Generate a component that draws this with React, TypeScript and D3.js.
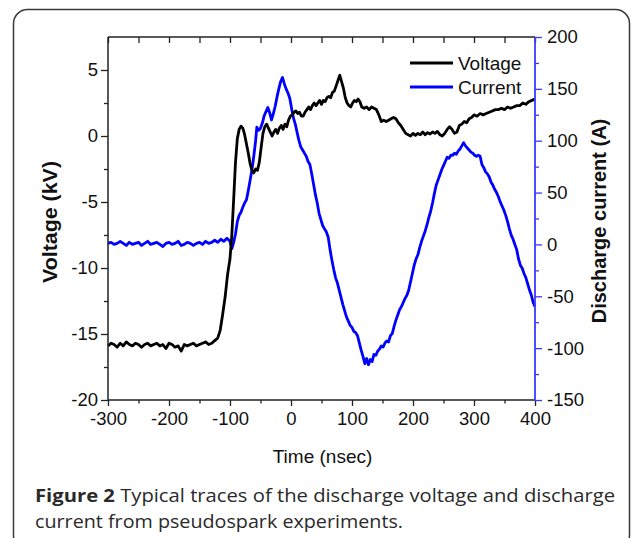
import React, { useRef, useEffect } from 'react';
import * as d3 from 'd3';

// time axis (nsec)
const xTicks = [-300, -200, -100, 0, 100, 200, 300, 400];
const xMinor = [-250, -150, -50, 50, 150, 250, 350];
const vTicks = [-20, -15, -10, -5, 0, 5];
const vMinor = [-17.5, -12.5, -7.5, -2.5, 2.5];
const iTicks = [-150, -100, -50, 0, 50, 100, 150, 200];
const iMinor = [-125, -75, -25, 25, 75, 125, 175];

// voltage trace (kV)
const vTime = [
  -300, -295, -290, -285, -280, -275, -270, -265, -260, -255, -250, -245, -240, -235, -230, -225, -220, -215,
  -210, -205, -200, -195, -190, -185, -180, -175, -170, -165, -160, -155, -150, -145, -140, -135, -130, -125,
  -120, -116, -112, -108, -104, -100, -97, -94, -91, -88, -85, -82, -79, -76, -73, -70, -67, -64, -61, -58,
  -55, -52, -49, -46, -43, -40, -37, -34, -31, -28, -25, -22, -19, -16, -13, -10, -7, -4, -1, 2, 5, 8, 11,
  14, 17, 20, 23, 26, 29, 32, 35, 38, 41, 44, 47, 50, 53, 56, 59, 62, 65, 68, 71, 74, 77, 80, 83, 86, 89,
  92, 95, 98, 101, 104, 107, 110, 113, 116, 120, 124, 128, 132, 136, 140, 144, 148, 152, 156, 160, 164,
  168, 172, 176, 180, 184, 188, 192, 196, 200, 204, 208, 212, 216, 220, 224, 228, 232, 236, 240, 244, 248,
  252, 256, 260, 264, 268, 272, 276, 280, 284, 288, 292, 296, 300, 305, 310, 315, 320, 325, 330, 335, 340,
  345, 350, 355, 360, 365, 370, 375, 380, 385, 390, 395, 400,
];
const voltage = [
  -15.9, -15.7, -15.8, -16.0, -15.7, -15.9, -15.6, -15.8, -15.9, -15.7, -15.8, -16.0, -15.8, -15.7, -15.9,
  -15.8, -15.7, -15.9, -15.8, -16.1, -15.7, -15.8, -16.0, -15.9, -16.3, -15.8, -15.9, -15.8, -15.7, -15.9,
  -15.8, -15.7, -15.6, -15.8, -15.7, -15.5,
  -15.3, -14.7, -13.5, -12.2, -10.5, -9.3, -7.5, -4.8, -2.0, -0.2, 0.5, 0.75, 0.6, 0.1, -0.6, -1.3, -2.1,
  -2.6, -2.8, -2.5, -2.6, -2.0, -0.9, 0.2, 0.7, 0.9, 0.6, 0.3, 0.0, 0.3, 0.5, 0.2, 0.6, 0.8, 0.5, 0.9, 0.7,
  1.2, 1.5, 1.6, 1.8, 1.9, 1.7, 1.8, 1.5, 1.5, 1.8, 2.0, 2.2, 2.0, 2.3, 2.5, 2.3, 2.5, 2.7, 2.4, 2.7, 2.6,
  2.9, 3.0, 2.9, 3.3, 3.4, 3.8, 4.2, 4.6, 4.1, 3.6, 2.9, 2.5, 2.3, 2.2, 2.5, 2.7, 2.6, 2.8, 2.6, 2.2, 2.1,
  2.2, 2.0, 2.2, 2.1, 2.0, 1.6, 1.1, 1.2, 1.1, 1.2, 1.3, 1.4, 1.3, 1.0, 0.8, 0.5, 0.2, 0.1, 0.0, 0.2, 0.05,
  0.2, 0.1, 0.3, 0.1, 0.25, 0.15, 0.3, 0.2, 0.35, 0.1, 0.0, 0.2, 0.5, 0.7, 0.5, 0.2, 0.3, 0.8, 0.9, 1.1,
  1.0, 1.3, 1.4, 1.6, 1.5, 1.7, 1.6, 1.7, 1.8, 1.9, 2.0, 2.0, 2.1, 2.0, 2.2, 2.1, 2.2, 2.3, 2.3, 2.5, 2.4,
  2.6, 2.7, 2.8,
];

// discharge current trace (A)
const iTime = [
  -300, -295, -290, -285, -280, -275, -270, -265, -260, -255, -250, -245, -240, -235, -230, -225, -220, -215,
  -210, -205, -200, -195, -190, -185, -180, -175, -170, -165, -160, -155, -150, -145, -140, -135, -130, -125,
  -120, -115, -110, -105, -100, -97, -94, -91, -88, -85, -82, -79, -76, -73, -70, -67, -64, -61, -58, -56,
  -53, -50, -47, -44, -41, -38, -35, -32, -29, -26, -23, -20, -17, -14, -11, -8, -5, -2, 1, 4, 7, 10, 13,
  16, 19, 22, 25, 28, 31, 34, 37, 40, 43, 46, 49, 52, 55, 58, 61, 64, 67, 70, 73, 76, 79, 82, 85, 88, 91,
  94, 97, 100, 103, 106, 109, 112, 115, 118, 121, 124, 127, 130, 133, 136, 139, 142, 145, 148, 151, 154,
  157, 160, 163, 166, 169, 172, 175, 178, 181, 184, 187, 190, 193, 196, 199, 202, 205, 208, 211, 214, 217,
  220, 223, 226, 229, 232, 235, 238, 241, 244, 247, 250, 253, 256, 259, 262, 265, 268, 271, 274, 277, 280,
  283, 286, 289, 292, 295, 298, 301, 304, 307, 310, 313, 316, 319, 322, 325, 328, 331, 334, 337, 340, 343,
  346, 349, 352, 355, 358, 361, 364, 367, 370, 373, 376, 379, 382, 385, 388, 391, 394, 397, 400,
];
const current = [
  1, 2, 0, 1, 3, 1, -1, 2, 0, 1, 2, -1, 1, 3, 0, 1, 2, 0, -2, 1, 2, 0, 1, 3, -1, 0, 2, 1, -1, 1, 2, 0, 3,
  1, 2, 4, 2, 5, 3, 6, 3, -4, 2, 10, 22, 28, 31, 36, 40, 43, 52, 62, 72, 85, 100, 113,
  110, 112, 117, 124, 128, 132, 127, 120, 126, 133, 142, 150, 157, 161, 155, 150, 146, 141, 131, 122, 116,
  108, 100, 94, 91, 88, 85, 80, 77, 68, 58, 48, 40, 30, 24, 18, 15, 12, 7, -5, -15, -24, -32, -37, -44,
  -51, -58, -64, -70, -74, -78, -80, -84, -85, -88, -95, -102, -108, -115, -110, -116, -111, -113, -106,
  -107, -103, -101, -98, -99, -95, -93, -94, -88, -86, -79, -73, -68, -63, -60, -56, -52, -49, -44, -36,
  -28, -20, -14, -10, -3, 3, 8, 13, 19, 26, 32, 40, 49, 57, 62, 67, 72, 76, 80, 84, 83, 86, 86, 88, 87,
  90, 92, 95, 98, 95, 93, 91, 89, 88, 86, 85, 86, 85, 77, 74, 70, 68, 65, 60, 57, 53, 50, 46, 41, 37, 33,
  28, 22, 15, 9, 5, 0, -5, -14, -20, -23, -28, -32, -38, -44, -49, -56, -60,
];

const legendItems = ['Voltage', 'Current'];
const legendColors = ['#000000', '#0000ff'];

const FONT = '"Liberation Sans", Arial, Helvetica, sans-serif';
const CAPTION_FONT = '"Open Sans", "Noto Sans", sans-serif';
const AXIS = '#222222';
const BLUE_AXIS = '#3a3aff';

const Chart = () => {
  const ref = useRef<SVGSVGElement>(null);

  useEffect(() => {
    const svg = d3.select(ref.current);
    svg.selectAll('*').remove();

    const left = 108, right = 535, top = 37, bottom = 400;
    const x = d3.scaleLinear().domain([-300, 400]).range([left, right]);
    const yV = d3.scaleLinear().domain([-20, 7.5]).range([bottom, top]);
    const yI = d3.scaleLinear().domain([-150, 200]).range([bottom, top]);
    const plain = (d: any) => String(d);

    // card frame
    svg.append('rect')
      .attr('x', 13.5).attr('y', 9.5)
      .attr('width', 616).attr('height', 540)
      .attr('rx', 14)
      .attr('fill', 'none')
      .attr('stroke', '#3a3a3a')
      .attr('stroke-width', 1.5);

    const styleAxis = (g: any, color: string, fs: number) => {
      g.select('.domain').remove();
      g.selectAll('line').attr('stroke', color).attr('stroke-width', 1.3);
      g.selectAll('text').attr('font-family', FONT).attr('font-size', fs).attr('fill', '#111');
    };

    // traces
    const lineI = d3.line<number>().x((d, i) => x(iTime[i])).y(d => yI(d));
    const lineV = d3.line<number>().x((d, i) => x(vTime[i])).y(d => yV(d));

    svg.append('path').datum(current)
      .attr('d', lineI).attr('fill', 'none')
      .attr('stroke', '#0000ff').attr('stroke-width', 2.8)
      .attr('stroke-linejoin', 'round');
    svg.append('path').datum(voltage)
      .attr('d', lineV).attr('fill', 'none')
      .attr('stroke', '#000000').attr('stroke-width', 2.8)
      .attr('stroke-linejoin', 'round');

    // bottom axis
    const gb = svg.append('g').attr('transform', `translate(0,${bottom})`);
    gb.call(d3.axisBottom(x).tickValues(xTicks).tickSize(6).tickPadding(6).tickFormat(plain) as any);
    styleAxis(gb, AXIS, 18.5);
    const gbm = svg.append('g').attr('transform', `translate(0,${bottom})`);
    gbm.call(d3.axisBottom(x).tickValues(xMinor).tickSize(3.5).tickFormat(() => '') as any);
    styleAxis(gbm, AXIS, 18.5);

    // top axis, ticks pointing inward
    const gt = svg.append('g').attr('transform', `translate(0,${top})`);
    gt.call(d3.axisBottom(x).tickValues(xTicks.concat(xMinor)).tickSize(6).tickFormat(() => '') as any);
    styleAxis(gt, AXIS, 18.5);

    // left axis
    const gl = svg.append('g').attr('transform', `translate(${left},0)`);
    gl.call(d3.axisLeft(yV).tickValues(vTicks).tickSize(7).tickPadding(3).tickFormat(plain) as any);
    styleAxis(gl, AXIS, 18.5);
    const glm = svg.append('g').attr('transform', `translate(${left},0)`);
    glm.call(d3.axisLeft(yV).tickValues(vMinor).tickSize(4).tickFormat(() => '') as any);
    styleAxis(glm, AXIS, 18.5);

    // right axis (blue)
    const gr = svg.append('g').attr('transform', `translate(${right},0)`);
    gr.call(d3.axisRight(yI).tickValues(iTicks).tickSize(7).tickPadding(5).tickFormat(plain) as any);
    styleAxis(gr, BLUE_AXIS, 18.5);
    const grm = svg.append('g').attr('transform', `translate(${right},0)`);
    grm.call(d3.axisRight(yI).tickValues(iMinor).tickSize(4).tickFormat(() => '') as any);
    styleAxis(grm, BLUE_AXIS, 18.5);

    // axis lines
    svg.append('line').attr('x1', left).attr('x2', right).attr('y1', bottom).attr('y2', bottom)
      .attr('stroke', AXIS).attr('stroke-width', 1.5);
    svg.append('line').attr('x1', left).attr('x2', right).attr('y1', top).attr('y2', top)
      .attr('stroke', AXIS).attr('stroke-width', 1.5);
    svg.append('line').attr('x1', left).attr('x2', left).attr('y1', top).attr('y2', bottom)
      .attr('stroke', AXIS).attr('stroke-width', 1.5);
    svg.append('line').attr('x1', right).attr('x2', right).attr('y1', top).attr('y2', bottom)
      .attr('stroke', BLUE_AXIS).attr('stroke-width', 1.8);

    // axis titles
    svg.append('text')
      .attr('x', (left + right) / 2 + 1).attr('y', 463)
      .attr('text-anchor', 'middle')
      .attr('font-family', FONT).attr('font-size', 19).attr('fill', '#111')
      .text('Time (nsec)');
    svg.append('text')
      .attr('transform', 'translate(57,222) rotate(-90)')
      .attr('text-anchor', 'middle')
      .attr('font-family', FONT).attr('font-size', 20).attr('font-weight', 'bold').attr('fill', '#111')
      .attr('textLength', 122).attr('lengthAdjust', 'spacingAndGlyphs')
      .text('Voltage (kV)');
    svg.append('text')
      .attr('transform', 'translate(606,221) rotate(-90)')
      .attr('text-anchor', 'middle')
      .attr('font-family', FONT).attr('font-size', 20).attr('font-weight', 'bold').attr('fill', '#111')
      .text('Discharge current (A)');

    // legend
    legendItems.forEach((name, k) => {
      const ly = 63 + k * 24;
      svg.append('line')
        .attr('x1', 410).attr('x2', 453).attr('y1', ly).attr('y2', ly)
        .attr('stroke', legendColors[k]).attr('stroke-width', 2.8);
      svg.append('text')
        .attr('x', 458).attr('y', ly + 6.5)
        .attr('font-family', FONT).attr('font-size', 19).attr('fill', '#111')
        .text(name);
    });

    // caption
    const cap = svg.append('text')
      .attr('x', 35).attr('y', 502)
      .attr('font-family', CAPTION_FONT).attr('font-size', 18).attr('fill', '#2a2a2a')
      .attr('textLength', 580).attr('lengthAdjust', 'spacingAndGlyphs');
    cap.append('tspan').attr('font-weight', 'bold').text('Figure 2');
    cap.append('tspan').text(' Typical traces of the discharge voltage and discharge');
    svg.append('text')
      .attr('x', 35).attr('y', 528)
      .attr('font-family', CAPTION_FONT).attr('font-size', 18).attr('fill', '#2a2a2a')
      .attr('textLength', 368).attr('lengthAdjust', 'spacingAndGlyphs')
      .text('current from pseudospark experiments.');
  }, []);

  return <svg ref={ref} width={632} height={538} style={{ display: 'block', background: '#fff' }} />;
};

export default function App() {
  return (
    <div style={{ position: 'absolute', left: 0, top: 0, width: 632, height: 538 }}>
      <Chart />
    </div>
  );
}
